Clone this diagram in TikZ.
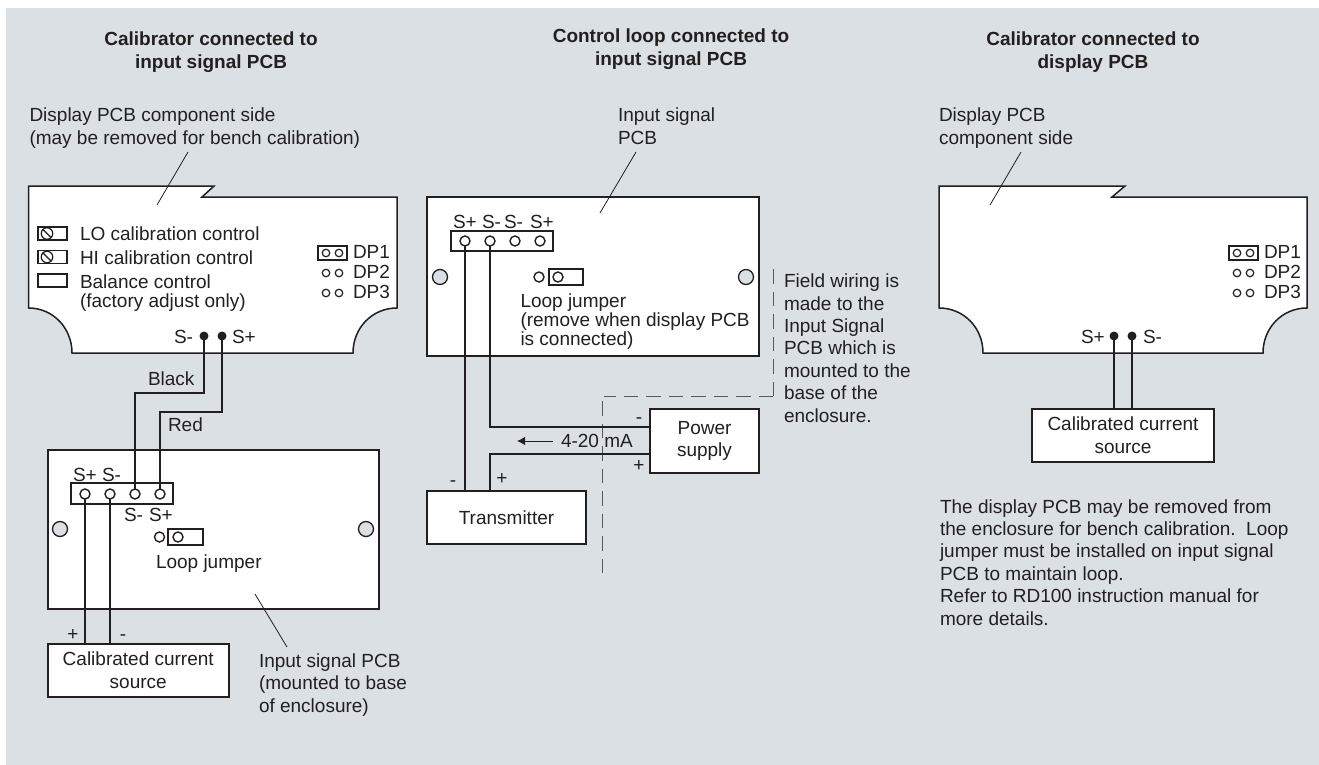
\documentclass[tikz,border=0pt]{standalone}
\usepackage{fontspec}
\setmainfont{Liberation Sans}
\usetikzlibrary{arrows.meta}
\definecolor{panelbg}{HTML}{DBE0E4}
\definecolor{ink}{HTML}{231F20}
\definecolor{dashink}{HTML}{555A5E}
\tikzset{
  outline/.style={draw=ink,fill=white,line width=1.5pt,line join=miter},
  boxnode/.style={rectangle,draw=ink,fill=white,line width=2pt,inner sep=0pt,outer sep=0pt,text=ink,align=center,font=\fontsize{19}{22.6}\selectfont},
  wire/.style={draw=ink,line width=1.8pt},
  leader/.style={draw=ink,line width=0.8pt},
  lbl/.style={inner sep=0pt,outer sep=0pt,text=ink,anchor=base west,align=left,font=\fontsize{19}{22.4}\selectfont},
  tightlbl/.style={lbl,font=\fontsize{19}{18.6}\selectfont},
  titlelbl/.style={inner sep=0pt,outer sep=0pt,text=ink,anchor=base,align=center,font=\fontsize{19}{23}\selectfont\bfseries},
  hole/.style={circle,draw=ink,fill=white,line width=1.4pt,inner sep=0pt,outer sep=0pt,minimum size=10pt},
  smallhole/.style={circle,draw=ink,fill=white,line width=1.2pt,inner sep=0pt,outer sep=0pt,minimum size=7.5pt},
  mounthole/.style={circle,draw=ink,fill=panelbg,line width=1.3pt,inner sep=0pt,outer sep=0pt,minimum size=15pt},
  soliddot/.style={circle,fill=ink,inner sep=0pt,outer sep=0pt,minimum size=9pt},
  strip/.style={rectangle,draw=ink,fill=white,line width=1.6pt,inner sep=0pt,outer sep=0pt},
  dashline/.style={draw=dashink,line width=1pt,dash pattern=on 14.5pt off 8pt},
}
\newcommand{\ctlscrew}[2]{%
  \node[strip,minimum width=29pt,minimum height=13pt] (#1) at (52.5,#2) {};
  \node[circle,draw=ink,line width=1.2pt,inner sep=0pt,minimum size=11.5pt] (#1c) at (47,#2) {};
  \draw[ink,line width=1.2pt] (#1c.north west) -- (#1c.south east);
}
\newcommand{\dpgroup}[2]{%
  \node[strip,line width=1.8pt,minimum width=29pt,minimum height=14pt] (#1box) at (#2+14.5,253) {};
  \foreach \yy/\nn in {253/1,273/2,293/3}{
    \node[smallhole] (#1a\nn) at (#2+8,\yy) {};
    \node[smallhole] (#1b\nn) at (#2+21,\yy) {};
  }
  \node[lbl] (#1l1) at (#2+35,258.5) {DP1};
  \node[lbl] (#1l2) at (#2+35,278.5) {DP2};
  \node[lbl] (#1l3) at (#2+35,298) {DP3};
}
\begin{document}
\begin{tikzpicture}[x=1pt,y=-1pt]
\useasboundingbox (0,0) rectangle (1319,765);
\fill[white] (0,0) rectangle (1319,765);
\fill[panelbg] (6,8) rectangle (1319,765);

% Titles
\node[titlelbl] (t1) at (211,69) {Calibrator connected to\\input signal PCB};
\node[titlelbl] (t2) at (671,66) {Control loop connected to\\input signal PCB};
\node[titlelbl] (t3) at (1093,69) {Calibrator connected to\\display PCB};

% ---- Left column
\node[lbl] (dl1) at (29.5,144) {Display PCB component side\\(may be removed for bench calibration)};
\draw[outline] (28.5,186) -- (214,186) -- (202,197) -- (397,197) -- (397,308)
  .. controls (372,308) and (353,328) .. (353,353) -- (72,353)
  .. controls (72,328) and (53,308) .. (28.5,308) -- cycle;
\coordinate (lead1a) at (188,152);
\coordinate (lead1b) at (157,205);
\draw[leader] (lead1a) -- (lead1b);

\ctlscrew{lo}{233.5}
\ctlscrew{hi}{257}
\node[strip,minimum width=29pt,minimum height=13pt] (bal) at (52.5,280.5) {};
\node[lbl] (lotx) at (80,240) {LO calibration control};
\node[lbl] (hitx) at (80,264) {HI calibration control};
\node[tightlbl] (baltx) at (80,307) {Balance control\\(factory adjust only)};
\dpgroup{la}{318}

\node[soliddot] (lm) at (204,336) {};
\node[soliddot] (lp) at (222,336) {};
\node[lbl] (lmtx) at (174,343) {S-};
\node[lbl] (lptx) at (232,343) {S+};
\node[lbl] (blk) at (148,385) {Black};
\node[lbl] (red) at (168,431) {Red};

\node[boxnode,minimum width=331.5pt,minimum height=159pt] (ipcb) at (213.25,529.5) {};
\node[strip,minimum width=102pt,minimum height=21pt] (ls) at (122,493.5) {};
\foreach \xx/\nn in {85/1,110/2,135/3,160/4}{\node[hole] (lt\nn) at (\xx,494) {};}
\draw[wire] (lm.center) -- (204,393) -- (135,393) -- (lt3.north);
\draw[wire] (lp.center) -- (222,412) -- (160,412) -- (lt4.north);
\node[lbl] (s1) at (73,481) {S+};
\node[lbl] (s2) at (102,481) {S-};
\node[lbl] (s3) at (124,521) {S-};
\node[lbl] (s4) at (149,521) {S+};
\node[mounthole] (lh1) at (60,529) {};
\node[mounthole] (lh2) at (366,529) {};
\node[hole] (lj0) at (159.5,537) {};
\node[strip,minimum width=34.5pt,minimum height=16pt] (ljb) at (185.5,537) {};
\node[hole] (lj1) at (178,537) {};
\node[lbl] (ljt) at (156,568) {Loop jumper};

\node[boxnode,minimum width=181.5pt,minimum height=53pt] (src1) at (138.25,670.5) {Calibrated current\\source};
\draw[wire] (lt1.south) -- (lt1.south |- src1.north);
\draw[wire] (lt2.south) -- (lt2.south |- src1.north);
\node[lbl,anchor=base] (pl1) at (73,640) {+};
\node[lbl,anchor=base] (mi1) at (123,640) {-};
\coordinate (lead2a) at (255,594);
\coordinate (lead2b) at (287,647);
\draw[leader] (lead2a) -- (lead2b);
\node[lbl] (ipt) at (259,712) {Input signal PCB\\(mounted to base\\of enclosure)};

% ---- Middle column
\node[lbl] (ml) at (618,144) {Input signal\\PCB};
\node[boxnode,line width=1.7pt,minimum width=332pt,minimum height=159pt] (mpcb) at (593,276.5) {};
\coordinate (lead3a) at (636,152);
\coordinate (lead3b) at (600,213);
\draw[leader] (lead3a) -- (lead3b);
\node[lbl] (m1) at (453,228) {S+};
\node[lbl] (m2) at (482,228) {S-};
\node[lbl] (m3) at (504,228) {S-};
\node[lbl] (m4) at (530,228) {S+};
\node[strip,minimum width=102pt,minimum height=20pt] (ms) at (502,241) {};
\foreach \xx/\nn in {465/1,490/2,515/3,540/4}{\node[hole] (mt\nn) at (\xx,241) {};}
\node[mounthole] (mh1) at (440,277) {};
\node[mounthole] (mh2) at (746,277) {};
\node[hole] (mj0) at (539,277) {};
\node[strip,minimum width=34pt,minimum height=16pt] (mjb) at (566,277) {};
\node[hole] (mj1) at (558,277) {};
\node[tightlbl] (mjt) at (520.5,345) {Loop jumper\\(remove when display PCB\\is connected)};

\coordinate (d1) at (602,401);
\coordinate (d2) at (602,575);
\coordinate (d3) at (773,396);
\coordinate (d4) at (604,396);
\coordinate (d5) at (773,267);
\draw[dashline] (d3) -- (d4);
\draw[dashline] (d3) -- (d5);
\draw[dashline] (d1) -- (d2);

\node[boxnode,minimum width=109pt,minimum height=64pt] (psu) at (704.5,441) {Power\\supply};
\node[boxnode,minimum width=159pt,minimum height=53pt] (tx) at (506.5,517.5) {Transmitter};
\draw[wire] (mt1.south) -- (mt1.south |- tx.north);
\draw[wire] (mt2.south) -- (490,427) -- (psu.west |- 0,427);
\draw[wire] (psu.west |- 0,454) -- (490,454) -- (490,491);
\coordinate (ar1) at (553,441);
\coordinate (ar2) at (517,441);
\draw[ink,line width=1pt,-{Latex[length=8pt,width=8.5pt]}] (ar1) -- (ar2);
\node[lbl] (ma) at (561,447) {4-20 mA};
\node[lbl,anchor=base] (pmi) at (639,423) {-};
\node[lbl,anchor=base] (ppl) at (639,471) {+};
\node[lbl,anchor=base] (tmi) at (453,486) {-};
\node[lbl,anchor=base] (tpl) at (502,484) {+};
\node[lbl] (fw) at (784,422) {Field wiring is\\made to the\\Input Signal\\PCB which is\\mounted to the\\base of the\\enclosure.};

% ---- Right column
\node[lbl] (dr1) at (939,144) {Display PCB\\component side};
\draw[outline] (939,186) -- (1125,186) -- (1112,197) -- (1307,197) -- (1307,308)
  .. controls (1282,308) and (1263,328) .. (1263,353) -- (983,353)
  .. controls (983,328) and (964,308) .. (939,308) -- cycle;
\coordinate (lead4a) at (1021,152);
\coordinate (lead4b) at (990,205);
\draw[leader] (lead4a) -- (lead4b);
\dpgroup{ra}{1229}
\node[soliddot] (rp) at (1114,336) {};
\node[soliddot] (rm) at (1132,336) {};
\node[lbl] (rptx) at (1081,343) {S+};
\node[lbl] (rmtx) at (1143,343) {S-};
\node[boxnode,minimum width=182pt,minimum height=53pt] (src2) at (1123,435.5) {Calibrated current\\source};
\draw[wire] (rp.center) -- (rp.center |- src2.north);
\draw[wire] (rm.center) -- (rm.center |- src2.north);
\node[lbl] (note) at (940,625) {The display PCB may be removed from\\the enclosure for bench calibration.\ \ Loop\\jumper must be installed on input signal\\PCB to maintain loop.\\Refer to RD100 instruction manual for\\more details.};
\end{tikzpicture}
\end{document}
